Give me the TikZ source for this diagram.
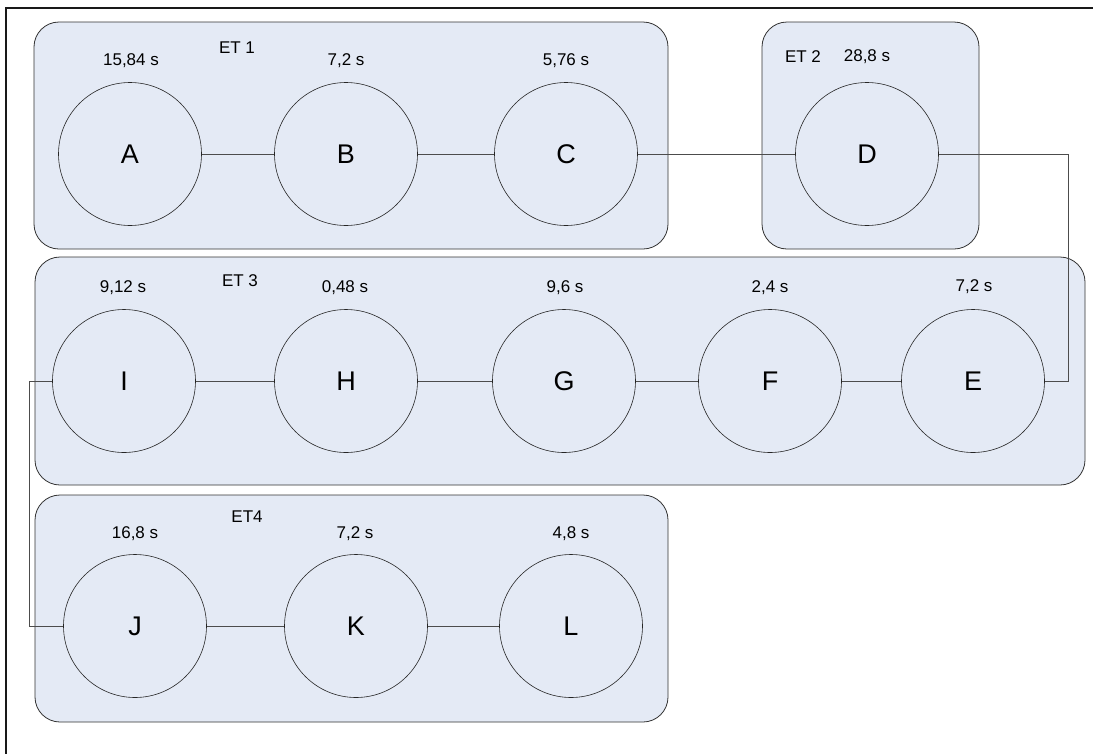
\documentclass[tikz,border=0pt]{standalone}
\usepackage{fontspec}
\setmainfont{Liberation Sans}
\begin{document}
\begin{tikzpicture}[x=1pt,y=-1pt,
  stagebox/.style={draw=black!80,fill=stagefill,line width=0.8pt,rounded corners=25pt},
  op/.style={circle,draw=black!85,fill=stagefill,line width=0.6pt,minimum size=143pt,inner sep=0pt,font=\fontsize{27}{30}\selectfont},
  lbl/.style={font=\fontsize{17}{20}\selectfont,inner sep=0pt},
  conn/.style={draw=black!70,line width=0.8pt}]
\definecolor{stagefill}{RGB}{228,234,245}
\useasboundingbox (0,0) rectangle (1093,753);
\clip (0,0) rectangle (1093,753);
\fill[white] (0,0) rectangle (1093,753);
% outer frame (only top and left edges fall inside the page)
\draw[black!90,line width=1.6pt] (6,770) -- (6,8) -- (1110,8);

% stage boxes
\draw[stagebox] (34,22) rectangle (668,249);
\draw[stagebox] (762,22) rectangle (979,249);
\draw[stagebox] (35,257) rectangle (1085,485);
\draw[stagebox] (35,495) rectangle (668,722);

% operations
\node[op] (A) at (130,154) {A};
\node[op] (B) at (346,154) {B};
\node[op] (C) at (566,154) {C};
\node[op] (D) at (867,154) {D};
\node[op] (I) at (124,381) {I};
\node[op] (H) at (346,381) {H};
\node[op] (G) at (564,381) {G};
\node[op] (F) at (770,381) {F};
\node[op] (E) at (973,381) {E};
\node[op] (J) at (135,626) {J};
\node[op] (K) at (356,626) {K};
\node[op] (L) at (571,626) {L};

% stage names and times
\node[lbl] (et1) at (237,48) {ET 1};
\node[lbl] (tA) at (131,61) {15,84 s};
\node[lbl] (tB) at (346,61) {7,2 s};
\node[lbl] (tC) at (566,61) {5,76 s};
\node[lbl] (et2) at (803,57) {ET 2};
\node[lbl] (tD) at (867,57) {28,8 s};
\node[lbl] (et3) at (240,281) {ET 3};
\node[lbl] (tI) at (123,288) {9,12 s};
\node[lbl] (tH) at (345,288) {0,48 s};
\node[lbl] (tG) at (565,288) {9,6 s};
\node[lbl] (tF) at (770,288) {2,4 s};
\node[lbl] (tE) at (974,287) {7,2 s};
\node[lbl] (et4) at (247,517) {ET4};
\node[lbl] (tJ) at (135,534) {16,8 s};
\node[lbl] (tK) at (355,534) {7,2 s};
\node[lbl] (tL) at (571,534) {4,8 s};

% links
\coordinate (rturn) at (1068,381);
\coordinate (lturn) at (29,626);
\draw[conn] (A) -- (B);
\draw[conn] (B) -- (C);
\draw[conn] (C) -- (D);
\draw[conn] (D.east) -| (rturn) -- (E.east);
\draw[conn] (E) -- (F);
\draw[conn] (F) -- (G);
\draw[conn] (G) -- (H);
\draw[conn] (H) -- (I);
\draw[conn] (I.west) -| (lturn) -- (J.west);
\draw[conn] (J) -- (K);
\draw[conn] (K) -- (L);
\end{tikzpicture}
\end{document}
